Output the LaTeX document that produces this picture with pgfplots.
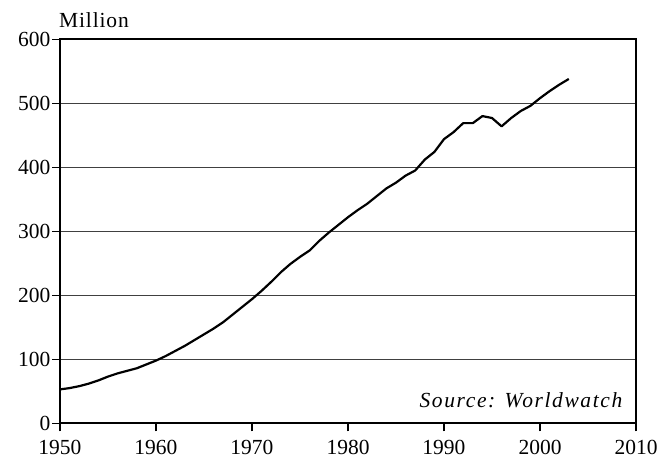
\documentclass[border=0pt]{standalone}
\usepackage{fontspec}
\setmainfont{Liberation Serif}
\usepackage{pgfplots}
\pgfplotsset{compat=1.18}
\pgfplotstableread{
year val
1950 53
1951 55
1952 58
1953 62
1954 67
1955 73
1956 78
1957 82
1958 86
1959 92
1960 98
1961 105
1962 113
1963 121
1964 130
1965 139
1966 148
1967 158
1968 170
1969 182
1970 194
1971 207
1972 221
1973 236
1974 249
1975 260
1976 270
1977 285
1978 298
1979 310
1980 322
1981 333
1982 343
1983 355
1984 367
1985 376
1986 387
1987 395
1988 412
1989 424
1990 444
1991 455
1992 469
1993 469
1994 480
1995 477
1996 464
1997 477
1998 488
1999 496
2000 508
2001 519
2002 529
2003 538
}\datatable
\begin{document}
\begin{tikzpicture}
\useasboundingbox (-60pt,-34.7pt) rectangle (601pt,423.3pt);
\begin{axis}[
  at={(0,0)}, anchor=south west,
  width=576pt, height=384pt, scale only axis=true,
  xmin=1950, xmax=2010, ymin=0, ymax=600,
  xtick={1950,1960,...,2010}, ytick={0,100,...,600},
  xticklabel style={/pgf/number format/1000 sep={}},
  /pgf/number format/assume math mode=true,
  ticklabel style={font=\fontsize{21.5}{24}\selectfont},
  tick align=outside, tick pos=left,
  major tick length=8pt,
  tick style={black, line width=1.2pt},
  axis line style={black, line width=2.2pt},
  ymajorgrids=true,
  grid style={black!75, line width=0.9pt},
  xticklabel style={anchor=north, yshift=-5pt},
  yticklabel style={anchor=east, xshift=2pt},
  clip=false,
]
\addplot[black, line width=2.2pt, line join=round] table[x=year,y=val] {\datatable};
\node[anchor=base west, inner sep=0pt, font=\fontsize{21.5}{24}\selectfont\addfontfeature{LetterSpace=4}] at (rel axis cs:0,1) [yshift=12pt, xshift=-1pt] {Million};
\node[anchor=base east, inner sep=0pt, font=\fontsize{21.5}{24}\selectfont\itshape\addfontfeature{LetterSpace=7.5}] at (axis cs:2008.6,24) {Source: Worldwatch};
\end{axis}
\end{tikzpicture}
\end{document}
